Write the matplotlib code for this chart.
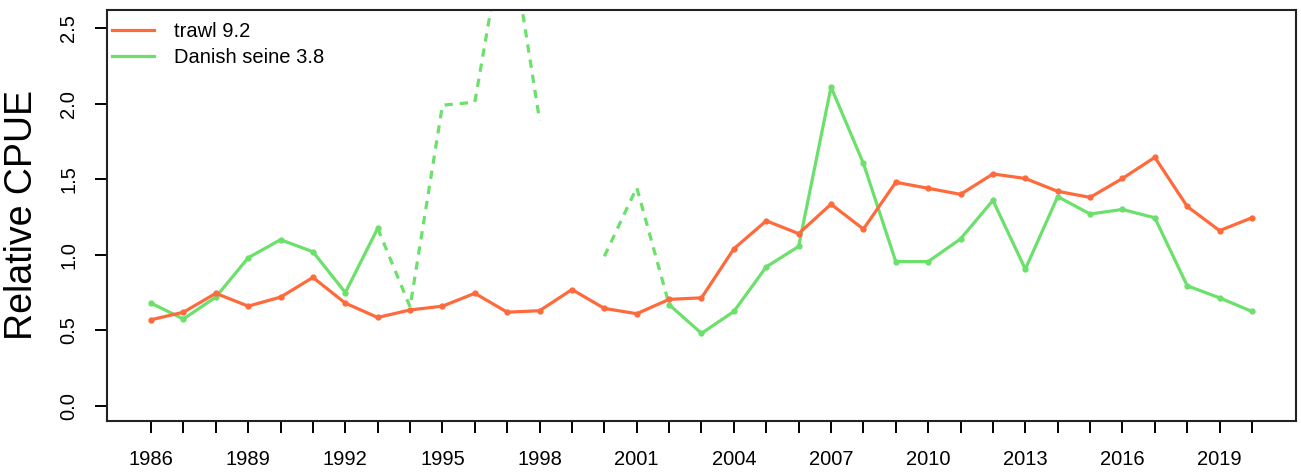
import numpy as np
import matplotlib
matplotlib.use("Agg")
import matplotlib.pyplot as plt
from matplotlib.lines import Line2D

plt.rcParams['font.family'] = ['Liberation Sans', 'DejaVu Sans']

years = list(range(1986, 2021))
trawl = [0.57, 0.62, 0.745, 0.66, 0.72, 0.85, 0.68, 0.585, 0.635, 0.66, 0.745, 0.62, 0.63,
         0.77, 0.645, 0.61, 0.705, 0.715, 1.04, 1.225, 1.14, 1.335, 1.17, 1.48, 1.44, 1.40,
         1.535, 1.505, 1.42, 1.38, 1.505, 1.645, 1.32, 1.16, 1.245]
seine = [0.68, 0.575, 0.72, 0.98, 1.10, 1.02, 0.75, 1.175, 0.655, 1.99, 2.01, 3.25, 1.89,
         np.nan, 0.99, 1.445, 0.67, 0.48, 0.625, 0.92, 1.055, 2.11, 1.605, 0.955, 0.955, 1.105,
         1.36, 0.905, 1.385, 1.27, 1.30, 1.245, 0.795, 0.715, 0.625]
seine_dashed_years = [1994, 1995, 1996, 1997, 1998, 2000, 2001]
tick_label_years = [1986, 1989, 1992, 1995, 1998, 2001, 2004, 2007, 2010, 2013, 2016, 2019]
y_ticks = [0.0, 0.5, 1.0, 1.5, 2.0, 2.5]
legend_labels = ["trawl 9.2", "Danish seine 3.8"]

col_trawl = '#FF6A3D'
col_seine = '#6BE06B'

yrs = np.array(years, dtype=float)
tr = np.array(trawl, dtype=float)
se = np.array(seine, dtype=float)
dashed_mask = np.isin(yrs, seine_dashed_years)
solid = se.copy()
solid[dashed_mask] = np.nan
near = dashed_mask.copy()
near[1:] |= dashed_mask[:-1]
near[:-1] |= dashed_mask[1:]
dashed = np.where(near, se, np.nan)

W, H = 1301, 473
fig = plt.figure(figsize=(W / 100, H / 100), dpi=100)
L, R, T, B = 107, 1296, 10, 421
ax = fig.add_axes([L / W, 1 - B / H, (R - L) / W, (B - T) / H])

lw = 2.3
ax.plot(yrs, dashed, color=col_seine, lw=lw, linestyle=(0, (2.6, 2.2)), zorder=2)
ax.plot(yrs, solid, color=col_seine, lw=lw, marker='o', markersize=3.5, zorder=3)
ax.plot(yrs, tr, color=col_trawl, lw=lw, marker='o', markersize=3.5, zorder=4)

ax.set_xlim(1984.64, 2021.36)
ax.set_ylim(-0.1, 2.62)

ax.set_xticks(years)
ax.set_xticklabels([str(y) if y in tick_label_years else '' for y in years])
ax.set_yticks(y_ticks)
ax.set_yticklabels([f"{v:.1f}" for v in y_ticks])
ax.tick_params(axis='both', direction='out', length=8.6, width=1.4, labelsize=14.5,
               colors='black')
ax.tick_params(axis='x', pad=12)
ax.tick_params(axis='y', pad=12, labelrotation=90)
for lab in ax.get_yticklabels():
    lab.set_va('center')

for s in ax.spines.values():
    s.set_linewidth(1.5)
    s.set_color('#222222')

ax.set_ylabel("Relative CPUE", fontsize=27)
ax.yaxis.set_label_coords(-0.0563, 0.5)

handles = [Line2D([], [], color=col_trawl, lw=lw), Line2D([], [], color=col_seine, lw=lw)]
ax.legend(handles, legend_labels, loc='upper left', frameon=False, fontsize=14.5,
          bbox_to_anchor=(5 / (R - L), 1 - 12 / (B - T)), borderaxespad=0, borderpad=0,
          handlelength=2.1, handletextpad=1.0, labelspacing=0.35)

fig.savefig("out.png", dpi=100)
